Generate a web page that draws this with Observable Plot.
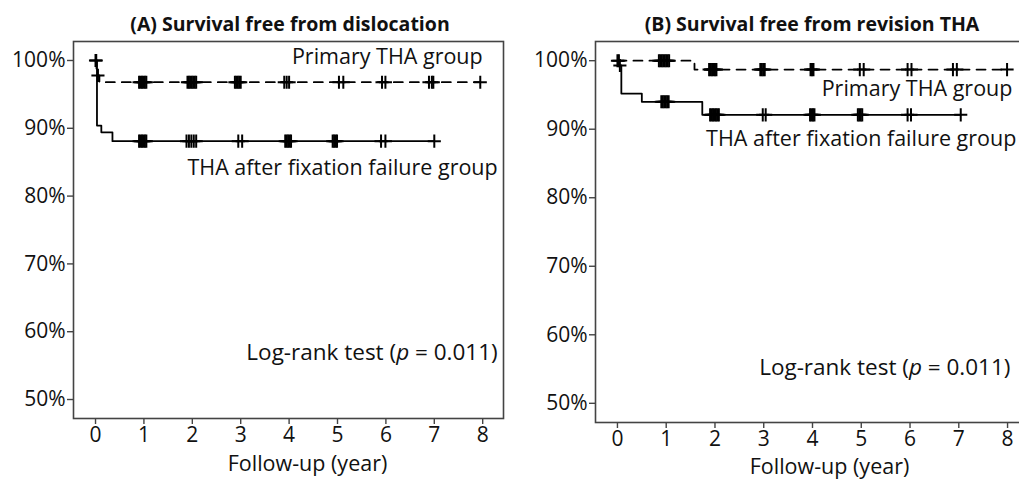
<!DOCTYPE html>
<html>
<head>
<meta charset="utf-8">
<script src="https://cdn.jsdelivr.net/npm/d3@7"></script>
<script src="https://cdn.jsdelivr.net/npm/@observablehq/plot@0.6"></script>
<style>
  body { margin: 0; background: #fff; }
  #wrap { position: relative; width: 1019px; height: 485px; overflow: hidden; font-family: "Open Sans", sans-serif; color: #111; background: #fff; }
  .title { position: absolute; top: 10px; height: 28px; line-height: 28px; font-weight: bold; font-size: 19.5px; text-align: center; white-space: nowrap; }
  .panel { position: absolute; top: 38px; }
  .panel svg { max-width: none !important; }
</style>
</head>
<body>
<div id="wrap">
  <div class="title" style="left:90px;width:400px;">(A) Survival free from dislocation</div>
  <div class="title" style="left:612px;width:400px;">(B) Survival free from revision THA</div>
  <div class="panel" id="pa" style="left:0px;width:510px;"></div>
  <div class="panel" id="pb" style="left:510px;width:519px;"></div>
</div>
<script>
const xTicks = [0, 1, 2, 3, 4, 5, 6, 7, 8];
const yTicks = [50, 60, 70, 80, 90, 100];
const xLabel = "Follow-up (year)";
const logRankText = "Log-rank test (p = 0.011)";

// Panel A: survival free from dislocation
const aPrimaryTime = [0, 0.02, 0.08, 7.95];
const aPrimarySurv = [100, 97.8, 96.8, 96.8];
const aPrimaryCensor = [0, 0.015, 0.05, 0.9, 0.93, 0.96, 0.99, 1.02, 1.05, 1.9, 1.93, 1.96, 1.99, 2.02, 2.05, 2.08, 2.88, 2.91, 2.94, 2.97, 3.0, 3.9, 3.95, 4.0, 5.03, 5.12, 5.92, 5.99, 6.89, 6.95, 6.98, 7.95];
const aFailTime = [0, 0.03, 0.12, 0.35, 7.0];
const aFailSurv = [100, 90.4, 89.4, 88.1, 88.1];
const aFailCensor = [0.9, 0.93, 0.96, 0.99, 1.02, 1.05, 1.88, 1.93, 1.98, 2.03, 2.08, 2.95, 3.03, 3.92, 3.95, 3.98, 4.01, 4.04, 4.9, 4.93, 4.96, 4.99, 5.9, 5.99, 7.0];
const aLabels = ["Primary THA group", "THA after fixation failure group", logRankText];
const aLabelX = [8.0, 8.31, 8.31];
const aLabelY = [100.44, 84.2, 56.9];

// Panel B: survival free from revision THA
const bPrimaryTime = [0, 1.58, 7.99];
const bPrimarySurv = [100, 98.7, 98.7];
const bPrimaryCensor = [0, 0.03, 0.85, 0.88, 0.91, 0.94, 0.97, 1.0, 1.03, 1.06, 1.88, 1.91, 1.94, 1.97, 2.0, 2.03, 2.93, 2.96, 2.99, 3.02, 3.96, 3.99, 4.02, 4.97, 5.05, 5.95, 6.03, 6.88, 6.96, 7.99];
const bFailTime = [0, 0.03, 0.08, 0.5, 1.74, 7.04];
const bFailSurv = [100, 99.3, 95.2, 94.0, 92.1, 92.1];
const bFailCensor = [0.05, 0.9, 0.93, 0.96, 0.99, 1.02, 1.05, 1.9, 1.93, 1.96, 1.99, 2.02, 2.05, 2.08, 2.98, 3.04, 3.95, 3.98, 4.01, 4.04, 4.93, 4.96, 4.99, 5.02, 5.95, 6.02, 7.04];
const bLabels = ["Primary THA group", "THA after fixation failure group", logRankText];
const bLabelX = [8.1, 8.18, 8.06];
const bLabelY = [95.9, 88.6, 55.25];

function survAt(times, survs, t) {
  let s = survs[0];
  for (let i = 0; i < times.length; i++) if (times[i] <= t) s = survs[i];
  return s;
}
function curve(times, survs) { return times.map((t, i) => ({t, s: survs[i]})); }
function censors(times, survs, cs) { return cs.map(t => ({t, s: survAt(times, survs, t)})); }

const FS = 21;     // tick labels
const AFS = 21.5;  // annotations
function panel(cfg) {
  const fail = curve(cfg.failTime, cfg.failSurv);
  const prim = curve(cfg.primTime, cfg.primSurv);
  const labels = cfg.labels.map((l, i) => ({l, x: cfg.labelX[i], y: cfg.labelY[i], fs: i === 2 ? AFS + 1 : AFS}));
  const svg = Plot.plot({
    width: cfg.width, height: 447,
    marginLeft: cfg.ml, marginRight: cfg.mr, marginTop: 3, marginBottom: cfg.mb,
    x: {domain: cfg.xDomain},
    y: {domain: [47.2, 102.8]},
    style: {fontFamily: "'Open Sans', sans-serif", fontSize: FS + "px", color: "#111", background: "transparent", overflow: "visible", maxWidth: "none"},
    marks: [
      Plot.axisX({ticks: xTicks, tickSize: 6, tickPadding: cfg.tickPad, tickFormat: d => String(d), label: null, stroke: "#444", strokeWidth: 1.4, fontSize: FS}),
      Plot.axisY({ticks: yTicks, tickSize: 6, tickPadding: 2, tickFormat: d => d + "%", label: null, stroke: "#444", strokeWidth: 1.4, fontSize: FS}),
      Plot.frame({stroke: "#444", strokeWidth: 1.6}),
      Plot.line(prim, {x: "t", y: "s", curve: "step-after", stroke: "#000", strokeWidth: 1.8, strokeDasharray: "9,7"}),
      Plot.line(fail, {x: "t", y: "s", curve: "step-after", stroke: "#000", strokeWidth: 1.8}),
      Plot.dot(censors(cfg.primTime, cfg.primSurv, cfg.primCensor), {x: "t", y: "s", symbol: "plus", r: 4.3, stroke: "#000", strokeWidth: 2}),
      Plot.dot(censors(cfg.failTime, cfg.failSurv, cfg.failCensor), {x: "t", y: "s", symbol: "plus", r: 4.3, stroke: "#000", strokeWidth: 2}),
      Plot.text(labels, {x: "x", y: "y", text: "l", textAnchor: "end", fontSize: "fs", fill: "#111"}),
      Plot.text([xLabel], {frameAnchor: "bottom", dx: cfg.labelDx, dy: cfg.labelDy, fontSize: cfg.lfs, fill: "#111"})
    ]
  });
  d3.select(svg).selectAll("text").filter(function() { return this.textContent === logRankText; })
    .each(function() {
      const t = d3.select(this);
      t.text(null);
      t.append("tspan").text("Log-rank test (");
      t.append("tspan").attr("font-style", "italic").text("p");
      t.append("tspan").text(" = 0.011)");
    });
  return svg;
}

document.getElementById("pa").append(panel({
  width: 510, ml: 73, mr: 7, mb: 67, xDomain: [-0.455, 8.43], tickPad: 3, lfs: 21.5,
  primTime: aPrimaryTime, primSurv: aPrimarySurv, primCensor: aPrimaryCensor,
  failTime: aFailTime, failSurv: aFailSurv, failCensor: aFailCensor,
  labels: aLabels, labelX: aLabelX, labelY: aLabelY, labelDx: 19, labelDy: 52
}));
document.getElementById("pb").append(panel({
  width: 519, ml: 85, mr: 0, mb: 63, xDomain: [-0.45, 8.45], tickPad: 3, lfs: 21.5,
  primTime: bPrimaryTime, primSurv: bPrimarySurv, primCensor: bPrimaryCensor,
  failTime: bFailTime, failSurv: bFailSurv, failCensor: bFailCensor,
  labels: bLabels, labelX: bLabelX, labelY: bLabelY, labelDx: 17, labelDy: 51
}));
</script>
</body>
</html>
